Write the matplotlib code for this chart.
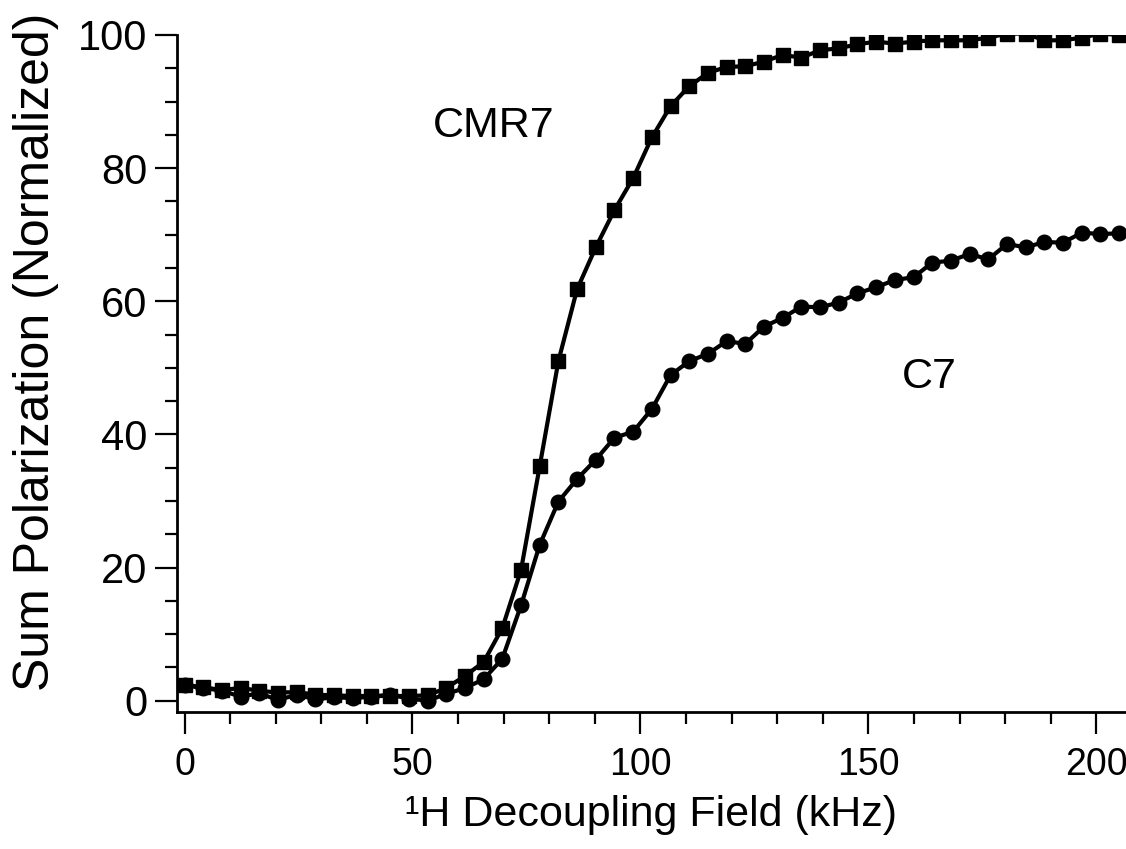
import matplotlib
matplotlib.use("Agg")
import matplotlib.pyplot as plt
from matplotlib.ticker import MultipleLocator

plt.rcParams['font.family'] = ['Liberation Sans', 'DejaVu Sans']

# 1H decoupling field (kHz)
field_khz = [0.0, 4.1, 8.2, 12.3, 16.4, 20.5, 24.6, 28.7, 32.8, 36.9,
             41.0, 45.1, 49.2, 53.3, 57.4, 61.5, 65.6, 69.7, 73.8, 77.9,
             82.0, 86.1, 90.2, 94.3, 98.4, 102.5, 106.6, 110.7, 114.8, 118.9,
             123.0, 127.1, 131.2, 135.3, 139.4, 143.5, 147.6, 151.7, 155.8, 159.9,
             164.0, 168.1, 172.2, 176.3, 180.4, 184.5, 188.6, 192.7, 196.8, 200.9,
             205.0]

cmr7 = [2.4, 2.0, 1.6, 1.9, 1.5, 1.2, 1.3, 0.9, 0.8, 0.7,
        0.7, 0.7, 0.7, 0.8, 1.9, 3.7, 5.8, 10.9, 19.6, 35.2,
        51.0, 61.8, 68.1, 73.7, 78.5, 84.6, 89.3, 92.3, 94.3, 95.2,
        95.3, 96.0, 97.0, 96.6, 97.7, 98.0, 98.6, 99.0, 98.7, 99.0,
        99.2, 99.2, 99.2, 99.6, 100.2, 100.2, 99.2, 99.2, 99.6, 100.2,
        100.0]

c7 = [2.3, 1.9, 1.5, 0.6, 1.1, 0.1, 0.9, 0.2, 0.5, 0.4,
      0.6, 0.9, 0.3, 0.0, 1.0, 1.9, 3.2, 6.3, 14.3, 23.4,
      29.9, 33.3, 36.2, 39.5, 40.4, 43.8, 48.9, 51.0, 52.1, 54.0,
      53.6, 56.2, 57.5, 59.2, 59.1, 59.8, 61.2, 62.1, 63.2, 63.6,
      65.8, 66.1, 67.1, 66.3, 68.6, 68.1, 68.9, 68.8, 70.3, 70.1,
      70.2]

fig = plt.figure(figsize=(11.26, 8.49), dpi=100)
ax = fig.add_axes([0.157, 0.1614, 0.843, 0.7974])

ax.plot(field_khz, cmr7, '-s', color='black', lw=3, ms=10,
        markerfacecolor='black', markeredgecolor='black')
ax.plot(field_khz, c7, '-o', color='black', lw=3, ms=10.5,
        markerfacecolor='black', markeredgecolor='black')

ax.text(54.5, 86.3, "CMR7", fontsize=31, va='center', ha='left')
ax.text(157.4, 48.6, "C7", fontsize=31, va='center', ha='left')

ax.set_xlim(-1.7, 206.5)
ax.set_ylim(-1.7, 100)

ax.spines['top'].set_visible(False)
ax.spines['right'].set_visible(False)
ax.spines['left'].set_linewidth(2)
ax.spines['bottom'].set_linewidth(2)

ax.xaxis.set_major_locator(MultipleLocator(50))
ax.xaxis.set_minor_locator(MultipleLocator(10))
ax.yaxis.set_major_locator(MultipleLocator(20))
ax.yaxis.set_minor_locator(MultipleLocator(5))

ax.tick_params(which='major', direction='out', length=16, width=1.6,
               labelsize=30)
ax.tick_params(axis='x', which='major', pad=9, labelsize=27)
ax.tick_params(axis='y', which='major', pad=5)
ax.tick_params(which='minor', direction='out', length=8.5, width=1.6)

ax.set_xlabel("¹H Decoupling Field (kHz)", fontsize=31, labelpad=9)
ax.set_ylabel("Sum Polarization (Normalized)", fontsize=36)
ax.yaxis.set_label_coords(-0.124, 0.532)

fig.savefig("out.png", dpi=100)
